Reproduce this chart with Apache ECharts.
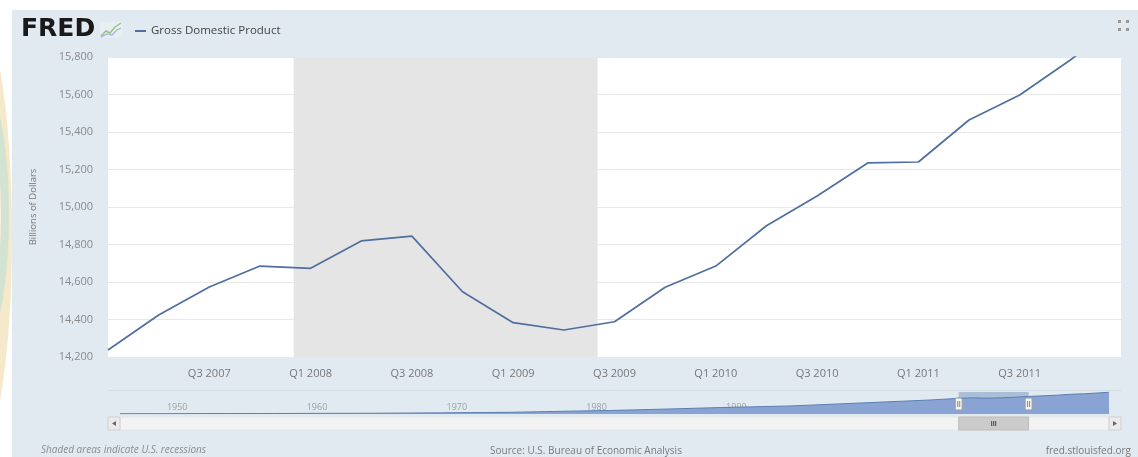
<!DOCTYPE html>
<html><head><meta charset="utf-8">
<script src="https://cdn.jsdelivr.net/npm/echarts@6/dist/echarts.min.js"></script>
<style>html,body{margin:0;padding:0;background:#fff}#c{width:1138px;height:457px}</style>
</head><body><div id="c"></div>
<script>
// ---- data ----
const quarters = ['2007-01','2007-04','2007-07','2007-10','2008-01','2008-04','2008-07','2008-10',
                  '2009-01','2009-04','2009-07','2009-10','2010-01','2010-04','2010-07','2010-10',
                  '2011-01','2011-04','2011-07','2011-10','2012-01'];
const gdp = [14237,14424,14573,14685,14673,14819,14845,14548,
             14383,14344,14388,14572,14685,14900,15059,15235,
             15240,15464,15597,15784,15990];
const xTickLabels = ['Q3 2007','Q1 2008','Q3 2008','Q1 2009','Q3 2009','Q1 2010','Q3 2010','Q1 2011','Q3 2011'];
const yTicks = [14200,14400,14600,14800,15000,15200,15400,15600,15800];
const recessions = [['2007-12','2009-06']];
const navYears = [1947,1950,1953,1955,1958,1960,1965,1970,1975,1980,1982,1985,1990,1995,2000,2005,
                  2007,2008,2009,2010,2011,2012,2013,2014,2015,2016,2017,2017.75];
const navGdp = [243,281,387,405,451,543,673,1051,1560,2789,3167,4119,5872,7325,10002,12767,
                14237,14673,14383,14685,15240,15990,16500,17100,17970,18400,19150,19830];
const navLabels = ['1950','1960','1970','1980','1990','2000','2010'];
const navWindow = [2007, 2012];
const seriesName = 'Gross Domestic Product';

// ---- helpers ----
const monthIndex = s => (parseInt(s.slice(0,4),10)-2007)*12 + parseInt(s.slice(5,7),10) - 1;
const lineData = quarters.map((q,i)=>[monthIndex(q), gdp[i]]);
const navData = navYears.map((y,i)=>[y, navGdp[i]]);

const chart = echarts.init(document.getElementById('c'));
const BG = '#e2eaf1';
const option = {
  backgroundColor: BG,
  animation: false,
  textStyle: {fontFamily: 'Open Sans'},
  legend: {
    data: [seriesName], left: 130, top: 20, icon: 'rect', itemWidth: 11, itemHeight: 2, itemGap: 6,
    textStyle: {fontSize: 11.5, color: '#444', fontFamily: 'Open Sans'}
  },
  grid: [
    {left: 108, right: 17, top: 57, bottom: 100, show: true, backgroundColor: '#ffffff', borderWidth: 0},
    {left: 120, right: 29, top: 392, height: 22, show: false}
  ],
  xAxis: [
    {type: 'value', gridIndex: 0, min: 0, max: 60, interval: 6,
     axisLine: {show: false}, axisTick: {show: false}, splitLine: {show: false},
     axisLabel: {margin: 11, color: '#777', fontSize: 11, showMinLabel: false, showMaxLabel: false,
       formatter: v => { const i = v/6 - 1; return (Number.isInteger(i) && i >= 0 && i < xTickLabels.length) ? xTickLabels[i] : ''; }}},
    {type: 'value', gridIndex: 1, min: 1947, max: 2017.75, interval: 1,
     axisLine: {show: false}, axisTick: {show: false}, splitLine: {show: false},
     axisLabel: {inside: true, interval: 0, align: 'left', margin: 2, padding: [0,0,0,5], color: '#a0a0a0', fontSize: 9,
       showMaxLabel: false, formatter: v => navLabels.includes(String(v)) ? String(v) : ''}}
  ],
  yAxis: [
    {type: 'value', gridIndex: 0, min: yTicks[0], max: yTicks[yTicks.length-1], interval: 200,
     name: 'Billions of Dollars', nameLocation: 'middle', nameGap: 70,
     nameTextStyle: {color: '#777', fontSize: 9.5},
     axisLine: {show: false}, axisTick: {show: false},
     splitLine: {lineStyle: {color: '#e8e8e8', width: 1}},
     axisLabel: {margin: 15, color: '#8a8a8a', fontSize: 11, formatter: v => v.toLocaleString('en-US')}},
    {type: 'value', gridIndex: 1, min: 0, max: 20000, show: false}
  ],
  series: [
    {name: seriesName, type: 'line', xAxisIndex: 0, yAxisIndex: 0, data: lineData,
     showSymbol: false, symbol: 'none', clip: true, color: '#4f6f9f',
     lineStyle: {color: '#4f6f9f', width: 1.7},
     markArea: {silent: true, itemStyle: {color: '#e5e5e5'},
       data: recessions.map(r => [{xAxis: monthIndex(r[0])}, {xAxis: monthIndex(r[1])}])}},
    {name: 'nav', type: 'line', xAxisIndex: 1, yAxisIndex: 1, data: navData,
     showSymbol: false, symbol: 'none', color: '#5a7fb5',
     lineStyle: {color: '#5a7fb5', width: 1}, areaStyle: {color: '#89a4d3', opacity: 1},
     markArea: {silent: true, itemStyle: {color: 'rgba(60,100,165,0.33)'},
       data: [[{xAxis: navWindow[0], yAxis: 0}, {xAxis: navWindow[1], yAxis: 20000}]]}}
  ]
};
chart.setOption(option);

// ---- decorative chrome (positions derived from the axes) ----
const px = (axis, v) => chart.convertToPixel(axis, v);
const navL = px({xAxisIndex:1}, 1947), navR = px({xAxisIndex:1}, 2017.75);
const navT = px({yAxisIndex:1}, 20000), navB = px({yAxisIndex:1}, 0);
const w0 = px({xAxisIndex:1}, navWindow[0]), w1 = px({xAxisIndex:1}, navWindow[1]);
const sbT = navB + 3, sbH = 13;
const plotL = px({xAxisIndex:0}, 0), plotR = px({xAxisIndex:0}, 60);

const g = [];
// outer white page strips and decorative arc
g.push({type:'rect', z:50, shape:{x:0,y:0,width:1138,height:10}, style:{fill:'#ffffff'}});
g.push({type:'rect', z:50, shape:{x:0,y:0,width:12,height:457}, style:{fill:'#ffffff'}});
g.push({type:'ellipse', z:51, shape:{cx:-24,cy:235,rx:36,ry:222}, style:{fill:'#f6e9c9'}});
g.push({type:'ellipse', z:52, shape:{cx:-22,cy:215,rx:31,ry:140}, style:{fill:'#d3e3d2'}});
g.push({type:'ellipse', z:53, shape:{cx:-30,cy:215,rx:31,ry:125}, style:{fill:'#f4f0e2'}});
g.push({type:'ellipse', z:54, shape:{cx:-38,cy:215,rx:31,ry:110}, style:{fill:'#d3e3d2'}});
// FRED logo
g.push({type:'text', z:60, left:21, top:17, style:{text:'FRED', fill:'#1a1a1a', font:'bold 25px "DejaVu Sans"'}});
g.push({type:'rect', z:60, shape:{x:100,y:22,width:22,height:15}, style:{fill:'#e9eef2'}});
g.push({type:'polyline', z:61, shape:{points:[[101,36],[106,31],[110,33],[115,27],[121,23]]}, style:{stroke:'#9ac27e', lineWidth:1.5, fill:null}});
g.push({type:'polyline', z:61, shape:{points:[[101,37],[107,34],[112,35],[117,30],[121,28]]}, style:{stroke:'#9fb6d6', lineWidth:1.2, fill:null}});
// fullscreen icon
[[1118,20],[1126,20],[1118,28],[1126,28]].forEach(p => g.push({type:'rect', z:60, shape:{x:p[0],y:p[1],width:3,height:3}, style:{fill:'#9a9a9a'}}));
// navigator top outline
g.push({type:'line', z:5, shape:{x1:plotL,y1:navT-1.5,x2:plotR,y2:navT-1.5}, style:{stroke:'#d3dbe3', lineWidth:1}});
// scrollbar track
g.push({type:'rect', z:20, shape:{x:navL,y:sbT,width:navR-navL,height:sbH}, style:{fill:'#f3f3f3', stroke:'#e6e6e6', lineWidth:1}});
// scrollbar buttons
g.push({type:'rect', z:20, shape:{x:navL-12,y:sbT,width:12,height:sbH}, style:{fill:'#ebebeb', stroke:'#d0d0d0', lineWidth:1}});
g.push({type:'polygon', z:21, shape:{points:[[navL-4,sbT+4],[navL-4,sbT+9],[navL-8,sbT+6.5]]}, style:{fill:'#666'}});
g.push({type:'rect', z:20, shape:{x:navR,y:sbT,width:12,height:sbH}, style:{fill:'#ebebeb', stroke:'#d0d0d0', lineWidth:1}});
g.push({type:'polygon', z:21, shape:{points:[[navR+4,sbT+4],[navR+4,sbT+9],[navR+8,sbT+6.5]]}, style:{fill:'#666'}});
// scrollbar thumb
g.push({type:'rect', z:22, shape:{x:w0,y:sbT,width:w1-w0,height:sbH}, style:{fill:'#cbcbcb', stroke:'#bdbdbd', lineWidth:1}});
const mid = (w0+w1)/2;
[-2,0,2].forEach(d => g.push({type:'line', z:23, shape:{x1:mid+d,y1:sbT+4,x2:mid+d,y2:sbT+9}, style:{stroke:'#444', lineWidth:1}}));
// navigator handles
[w0, w1].forEach(x => {
  g.push({type:'rect', z:24, shape:{x:x-3.5,y:navT+6,width:7,height:12,r:1.5}, style:{fill:'#f4f4f4', stroke:'#9a9a9a', lineWidth:1}});
  g.push({type:'line', z:25, shape:{x1:x-1,y1:navT+9,x2:x-1,y2:navT+15}, style:{stroke:'#888', lineWidth:1}});
  g.push({type:'line', z:25, shape:{x1:x+1,y1:navT+9,x2:x+1,y2:navT+15}, style:{stroke:'#888', lineWidth:1}});
});
// footer
g.push({type:'text', z:60, left:41, top:445, style:{text:'Shaded areas indicate U.S. recessions', fill:'#8d8d8d', font:'italic 10px "Open Sans"'}});
g.push({type:'text', z:60, x:586, y:451, style:{text:'Source: U.S. Bureau of Economic Analysis', fill:'#7a7a7a', font:'10px "Open Sans"', align:'center', verticalAlign:'middle'}});
g.push({type:'text', z:60, x:1131, y:451, style:{text:'fred.stlouisfed.org', fill:'#7a7a7a', font:'10px "Open Sans"', align:'right', verticalAlign:'middle'}});

chart.setOption({graphic: g});
</script></body></html>
